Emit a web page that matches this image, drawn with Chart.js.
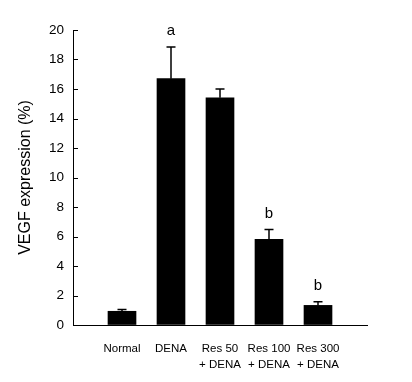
<!DOCTYPE html>
<html>
<head>
<meta charset="utf-8">
<script src="https://cdn.jsdelivr.net/npm/chart.js@4/dist/chart.umd.min.js"></script>
<style>
  html, body { margin: 0; padding: 0; background: #fff; }
  #wrap { width: 412px; height: 382px; }
</style>
</head>
<body>
<div id="wrap"><canvas id="vegfChart"></canvas></div>
<script>
const groups = ['Normal', 'DENA', ['Res 50', '+ DENA'], ['Res 100', '+ DENA'], ['Res 300', '+ DENA']];
const vegf = [0.93, 16.7, 15.4, 5.8, 1.33];
const vegfErr = [0.12, 2.15, 0.6, 0.67, 0.25];
const sigLetters = ['', 'a', '', 'b', 'b'];
const yTicks = [0, 2, 4, 6, 8, 10, 12, 14, 16, 18, 20];

const FONT = 'Arial, "Liberation Sans", sans-serif';

// empty slot at each end so the bars sit inside the axis line
const labels = [''].concat(groups, ['']);
const values = [null].concat(vegf, [null]);

// error bars (upper only) + letters
const errorBars = {
  id: 'errorBars',
  afterDatasetsDraw(chart) {
    const ctx = chart.ctx;
    const x = chart.scales.x, y = chart.scales.y;
    ctx.save();
    ctx.strokeStyle = '#000';
    ctx.lineWidth = 1.5;
    vegf.forEach((v, i) => {
      const px = x.getPixelForValue(i + 1);
      const top = y.getPixelForValue(v + vegfErr[i]);
      ctx.beginPath();
      ctx.moveTo(px, y.getPixelForValue(v));
      ctx.lineTo(px, top);
      ctx.moveTo(px - 4.5, top);
      ctx.lineTo(px + 4.5, top);
      ctx.stroke();
      if (sigLetters[i]) {
        ctx.fillStyle = '#000';
        ctx.font = '15px ' + FONT;
        ctx.textAlign = 'center';
        ctx.textBaseline = 'middle';
        ctx.fillText(sigLetters[i], px, top - 16);
      }
    });
    ctx.restore();
  }
};

// tick marks pointing into the plot
const innerTicks = {
  id: 'innerTicks',
  afterDraw(chart) {
    const ctx = chart.ctx;
    const y = chart.scales.y;
    const left = chart.chartArea.left;
    ctx.save();
    ctx.strokeStyle = '#000';
    ctx.lineWidth = 1;
    yTicks.forEach(t => {
      const py = Math.round(y.getPixelForValue(t)) + 0.5;
      ctx.beginPath();
      ctx.moveTo(left, py);
      ctx.lineTo(left + 5, py);
      ctx.stroke();
    });
    ctx.restore();
  }
};

new Chart(document.getElementById('vegfChart'), {
  type: 'bar',
  data: {
    labels: labels,
    datasets: [{
      data: values,
      backgroundColor: '#000',
      borderWidth: 0,
      barThickness: 28
    }]
  },
  options: {
    responsive: true,
    maintainAspectRatio: false,
    animation: false,
    layout: { padding: { left: 0, top: 30, right: 45, bottom: 0 } },
    plugins: {
      legend: { display: false },
      tooltip: { enabled: false }
    },
    scales: {
      x: {
        offset: false,
        grid: { display: false, drawTicks: false },
        border: { display: true, color: '#000', width: 1 },
        ticks: {
          color: '#000',
          padding: 16,
          maxRotation: 0,
          autoSkip: false,
          font: { family: FONT, size: 11.5, lineHeight: 1.4 }
        },
        afterFit(scale) { scale.height = 57; }
      },
      y: {
        min: 0,
        max: 20,
        afterBuildTicks(scale) { scale.ticks = yTicks.map(v => ({ value: v })); },
        grid: { drawOnChartArea: false, drawTicks: false },
        border: { display: true, color: '#000', width: 1 },
        ticks: {
          color: '#000',
          padding: 9,
          font: { family: FONT, size: 13.5 }
        },
        title: {
          display: true,
          text: 'VEGF expression (%)',
          color: '#000',
          padding: { top: 16, bottom: 0 },
          font: { family: FONT, size: 16 }
        },
        afterFit(scale) { scale.width = 73; }
      }
    }
  },
  plugins: [errorBars, innerTicks]
});
</script>
</body>
</html>
